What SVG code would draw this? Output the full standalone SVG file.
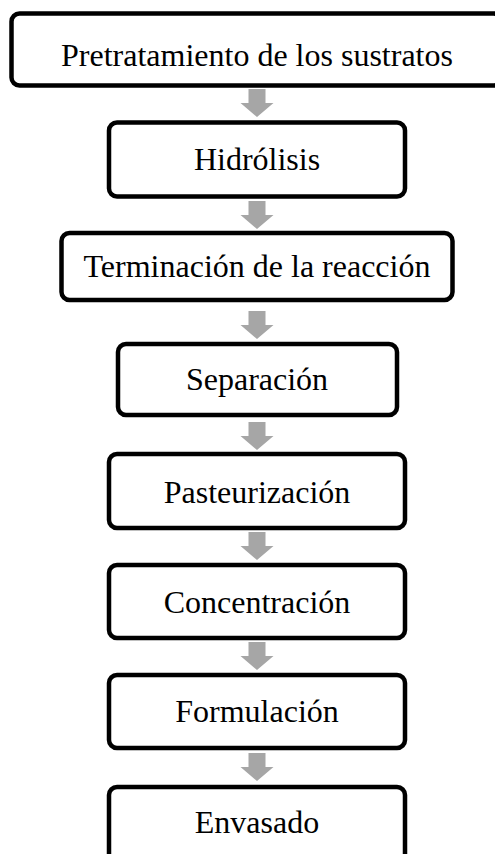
<svg xmlns="http://www.w3.org/2000/svg" width="495" height="854" viewBox="0 0 495 854">
<style>
.box{fill:#fff;stroke:#000;stroke-width:4.5}
.lbl{font-family:"Liberation Serif","Times New Roman",serif;font-size:32px;fill:#000;text-anchor:middle}
.arr{fill:#a6a6a6}
</style>
<defs>
<path id="ar" d="M-8.5,0 H8.5 V14 H16.5 L0,28 L-16.5,14 H-8.5 Z"/>
</defs>
<rect width="495" height="854" fill="#fff"/>
<g id="connectors" class="arr">
<use href="#ar" x="257" y="89"/>
<use href="#ar" x="257" y="201"/>
<use href="#ar" x="257" y="311"/>
<use href="#ar" x="257" y="422"/>
<use href="#ar" x="257" y="532"/>
<use href="#ar" x="257" y="642"/>
<use href="#ar" x="257" y="753"/>
</g>
<g id="n1"><rect class="box" x="11.5" y="13.5" width="490" height="72" rx="8"/><text class="lbl" x="257" y="66">Pretratamiento de los sustratos</text></g>
<g id="n2"><rect class="box" x="109" y="122.5" width="296" height="74" rx="8"/><text class="lbl" x="257" y="170">Hidrólisis</text></g>
<g id="n3"><rect class="box" x="61.5" y="233" width="391" height="67" rx="8"/><text class="lbl" x="257" y="277">Terminación de la reacción</text></g>
<g id="n4"><rect class="box" x="118" y="344" width="279" height="71" rx="8"/><text class="lbl" x="257" y="390">Separación</text></g>
<g id="n5"><rect class="box" x="109" y="454" width="296" height="74" rx="8"/><text class="lbl" x="257" y="503">Pasteurización</text></g>
<g id="n6"><rect class="box" x="109" y="565" width="296" height="73" rx="8"/><text class="lbl" x="257" y="613">Concentración</text></g>
<g id="n7"><rect class="box" x="109" y="675" width="296" height="73" rx="8"/><text class="lbl" x="257" y="722">Formulación</text></g>
<g id="n8"><rect class="box" x="109" y="787" width="296" height="80" rx="8"/><text class="lbl" x="257" y="833">Envasado</text></g>
</svg>
